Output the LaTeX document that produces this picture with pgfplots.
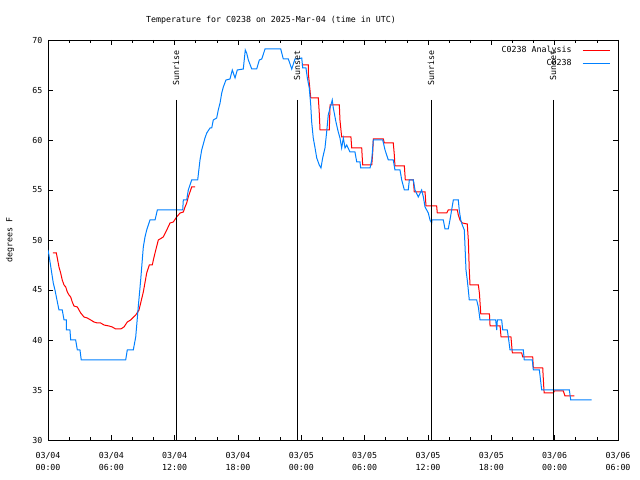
\documentclass[border=0pt]{standalone}
\usepackage{fontspec}
\setmainfont{DejaVu Sans Mono}
\usepackage{pgfplots}
\pgfplotsset{compat=1.18}
\definecolor{gred}{RGB}{255,0,0}
\definecolor{gblue}{RGB}{0,128,255}
\begin{document}
\begin{tikzpicture}[font=\fontsize{8.3bp}{10bp}\selectfont]
\useasboundingbox (0,0) rectangle (640bp,480bp);
\node at (271bp,460bp) {Temperature for C0238 on 2025-Mar-04 (time in UTC)};
\node[rotate=90] at (10bp,240bp) {degrees F};
\begin{axis}[at={(48bp,40bp)}, anchor=south west, scale only axis,
  width=570bp, height=400bp,
  xmin=0, xmax=54, ymin=30, ymax=70,
  xtick={0,6,...,54},
  xticklabels={03/04\\00:00,03/04\\06:00,03/04\\12:00,03/04\\18:00,03/05\\00:00,03/05\\06:00,03/05\\12:00,03/05\\18:00,03/06\\00:00,03/06\\06:00},
  minor x tick num=2,
  ytick={30,35,...,70},
  tick align=inside,
  major tick length=5bp, minor tick length=3bp,
  tick style={black, line width=0.6bp},
  axis line style={line width=0.8bp},
  every axis/.append style={line width=0.8bp},
  /pgf/number format/assume math mode=true,
  ticklabel style={font=\fontsize{8.3bp}{12bp}\selectfont},
  xticklabel style={align=center, yshift=-9bp},
  yticklabel style={xshift=-2bp},
  legend style={draw=none, fill=none, at={(0.992,0.995)}, anchor=north east,
    font=\fontsize{8.3bp}{9bp}\selectfont, row sep=1.5bp},
  legend cell align=right,
  legend plot pos=right,
  legend image code/.code={\path[draw=none,fill=none] (0bp,0bp) rectangle (1bp,0bp); \draw[#1] (9bp,0bp) -- (36bp,0bp);},
]
\addplot[gred, line width=1bp] coordinates {
(0.47,48.7)(0.79,48.7)(0.88,48.2)(1.04,47.3)(1.20,46.7)(1.35,46.0)(1.52,45.5)(1.68,45.3)(1.83,44.8)(1.99,44.5)(2.15,44.3)(2.30,43.8)(2.46,43.4)(2.78,43.3)(2.94,43.0)(3.10,42.7)(3.41,42.3)(3.72,42.2)(4.05,42.0)(4.36,41.8)(4.67,41.7)(4.99,41.7)(5.31,41.5)(5.78,41.4)(6.09,41.3)(6.41,41.1)(6.89,41.1)(7.20,41.3)(7.51,41.8)(7.83,42.0)(8.31,42.5)(8.62,43.0)(8.78,43.7)(9.03,44.8)(9.35,46.7)(9.60,47.5)(9.88,47.5)(9.98,48.0)(10.14,48.7)(10.45,50.0)(10.61,50.1)(10.92,50.3)(11.25,51.0)(11.56,51.7)(11.87,51.8)(12.19,52.3)(12.51,52.7)(12.82,52.8)(12.98,53.3)(13.14,53.7)(13.29,54.3)(13.45,54.8)(13.61,55.3)(13.93,55.3)
};
\addlegendentry{C0238 Analysis}
\addplot[gred, line width=1bp, forget plot] coordinates {
(24.04,67.5)(24.66,67.5)(24.66,66.7)(24.82,65.0)(24.89,64.2)(25.61,64.2)(25.70,62.7)(25.77,61.0)(26.65,61.0)(26.72,63.5)(27.60,63.5)(27.66,62.0)(27.82,60.3)(28.70,60.3)(28.77,59.2)(29.72,59.2)(29.81,57.5)(30.67,57.5)(30.76,58.7)(30.82,60.1)(31.77,60.1)(31.86,59.7)(32.71,59.7)(32.81,58.5)(32.87,57.4)(33.76,57.4)(33.85,56.0)(34.61,56.0)(34.70,54.8)(35.72,54.8)(35.81,53.4)(36.82,53.4)(36.88,52.7)(37.77,52.7)(37.92,53.0)(38.78,53.0)(38.87,52.5)(39.03,52.0)(39.25,51.7)(39.72,51.6)(39.82,50.0)(39.91,47.0)(39.98,45.5)(40.77,45.5)(40.87,44.7)(41.00,42.6)(41.82,42.6)(41.88,41.4)(42.83,41.4)(42.92,40.3)(43.86,40.3)(43.99,38.7)(44.88,38.7)(44.97,38.3)(45.92,38.3)(45.98,37.2)(46.87,37.2)(46.93,36.0)(47.00,34.7)(47.88,34.7)(47.97,34.9)(48.82,34.9)(48.98,34.4)(49.86,34.4)
};
\addplot[gblue, line width=1bp] coordinates {
(0,49.0)(0.09,48.5)(0.50,45.7)(0.66,45.0)(1.04,43.0)(1.35,43.0)(1.52,42.0)(1.73,42.0)(1.74,41.0)(2.08,41.0)(2.15,40.0)(2.62,40.0)(2.78,39.0)(3.03,39.0)(3.15,38.0)(7.36,38.0)(7.51,39.0)(8.08,39.0)(8.31,40.3)(8.55,43.3)(8.78,46.0)(9.03,49.3)(9.19,50.3)(9.35,51.0)(9.66,52.0)(10.14,52.0)(10.36,53.0)(12.76,53.0)(12.82,54.0)(13.14,54.0)(13.29,55.0)(13.61,56.0)(14.18,56.0)(14.40,58.0)(14.56,59.0)(14.87,60.2)(15.04,60.7)(15.35,61.2)(15.51,61.2)(15.66,62.0)(15.98,62.2)(16.13,63.0)(16.30,63.7)(16.46,64.7)(16.61,65.3)(16.86,66.0)(17.24,66.1)(17.46,67.0)(17.72,66.2)(17.93,67.0)(18.50,67.1)(18.69,69.0)(18.82,68.7)(18.98,68.0)(19.30,67.1)(19.77,67.1)(20.02,68.0)(20.25,68.1)(20.56,69.1)(22.05,69.1)(22.29,68.1)(22.77,68.1)(23.09,67.1)(23.40,68.1)(23.71,68.1)(24.04,68.2)(24.13,67.2)(24.44,67.2)(24.57,66.2)(24.75,65.2)(24.89,63.5)(24.98,61.8)(25.13,60.2)(25.30,59.2)(25.46,58.2)(25.70,57.5)(25.86,57.2)(26.02,58.2)(26.24,59.2)(26.40,60.8)(26.55,62.5)(26.72,63.2)(26.93,64.0)(27.03,63.2)(27.28,61.8)(27.50,60.8)(27.66,60.2)(27.82,59.2)(27.98,60.2)(28.14,59.2)(28.30,59.5)(28.61,58.8)(29.08,58.8)(29.25,57.8)(29.56,57.8)(29.62,57.2)(30.51,57.2)(30.67,58.0)(30.82,60.0)(31.71,60.0)(31.93,59.0)(32.24,58.0)(32.71,58.0)(32.87,57.0)(33.35,57.0)(33.51,56.0)(33.76,55.0)(34.13,55.0)(34.23,56.0)(34.61,56.0)(34.77,55.0)(35.08,54.3)(35.40,55.0)(35.56,54.3)(35.72,53.3)(36.03,52.7)(36.19,52.0)(36.35,51.7)(36.38,52.0)(37.45,52.0)(37.61,51.1)(37.92,51.1)(38.08,52.0)(38.24,53.0)(38.40,54.0)(38.87,54.0)(38.96,53.0)(39.10,52.0)(39.25,51.5)(39.44,51.0)(39.51,49.3)(39.60,47.0)(39.72,46.0)(39.82,45.0)(39.91,44.0)(40.61,44.0)(40.77,43.3)(40.93,42.0)(42.41,42.0)(42.51,41.0)(42.57,42.0)(42.98,42.0)(43.08,41.0)(43.51,41.0)(43.61,40.3)(43.77,39.0)(45.03,39.0)(45.12,38.0)(45.88,38.0)(45.98,37.0)(46.55,37.0)(46.77,35.0)(49.39,35.0)(49.52,34.0)(51.51,34.0)
};
\addlegendentry{C0238}
\draw[black, line width=0.8bp] (axis cs:12.13,64) -- (axis cs:12.13,30);
\draw[black, line width=0.8bp] (axis cs:23.59,64) -- (axis cs:23.59,30);
\draw[black, line width=0.8bp] (axis cs:36.28,64) -- (axis cs:36.28,30);
\draw[black, line width=0.8bp] (axis cs:47.84,64) -- (axis cs:47.84,30);
\node[rotate=90, anchor=east, inner sep=0pt] at (axis cs:12.13,69.0) {Sunrise};
\node[rotate=90, anchor=east, inner sep=0pt] at (axis cs:23.59,69.0) {Sunset};
\node[rotate=90, anchor=east, inner sep=0pt] at (axis cs:36.28,69.0) {Sunrise};
\node[rotate=90, anchor=east, inner sep=0pt] at (axis cs:47.84,69.0) {Sunset};
\end{axis}
\end{tikzpicture}
\end{document}
